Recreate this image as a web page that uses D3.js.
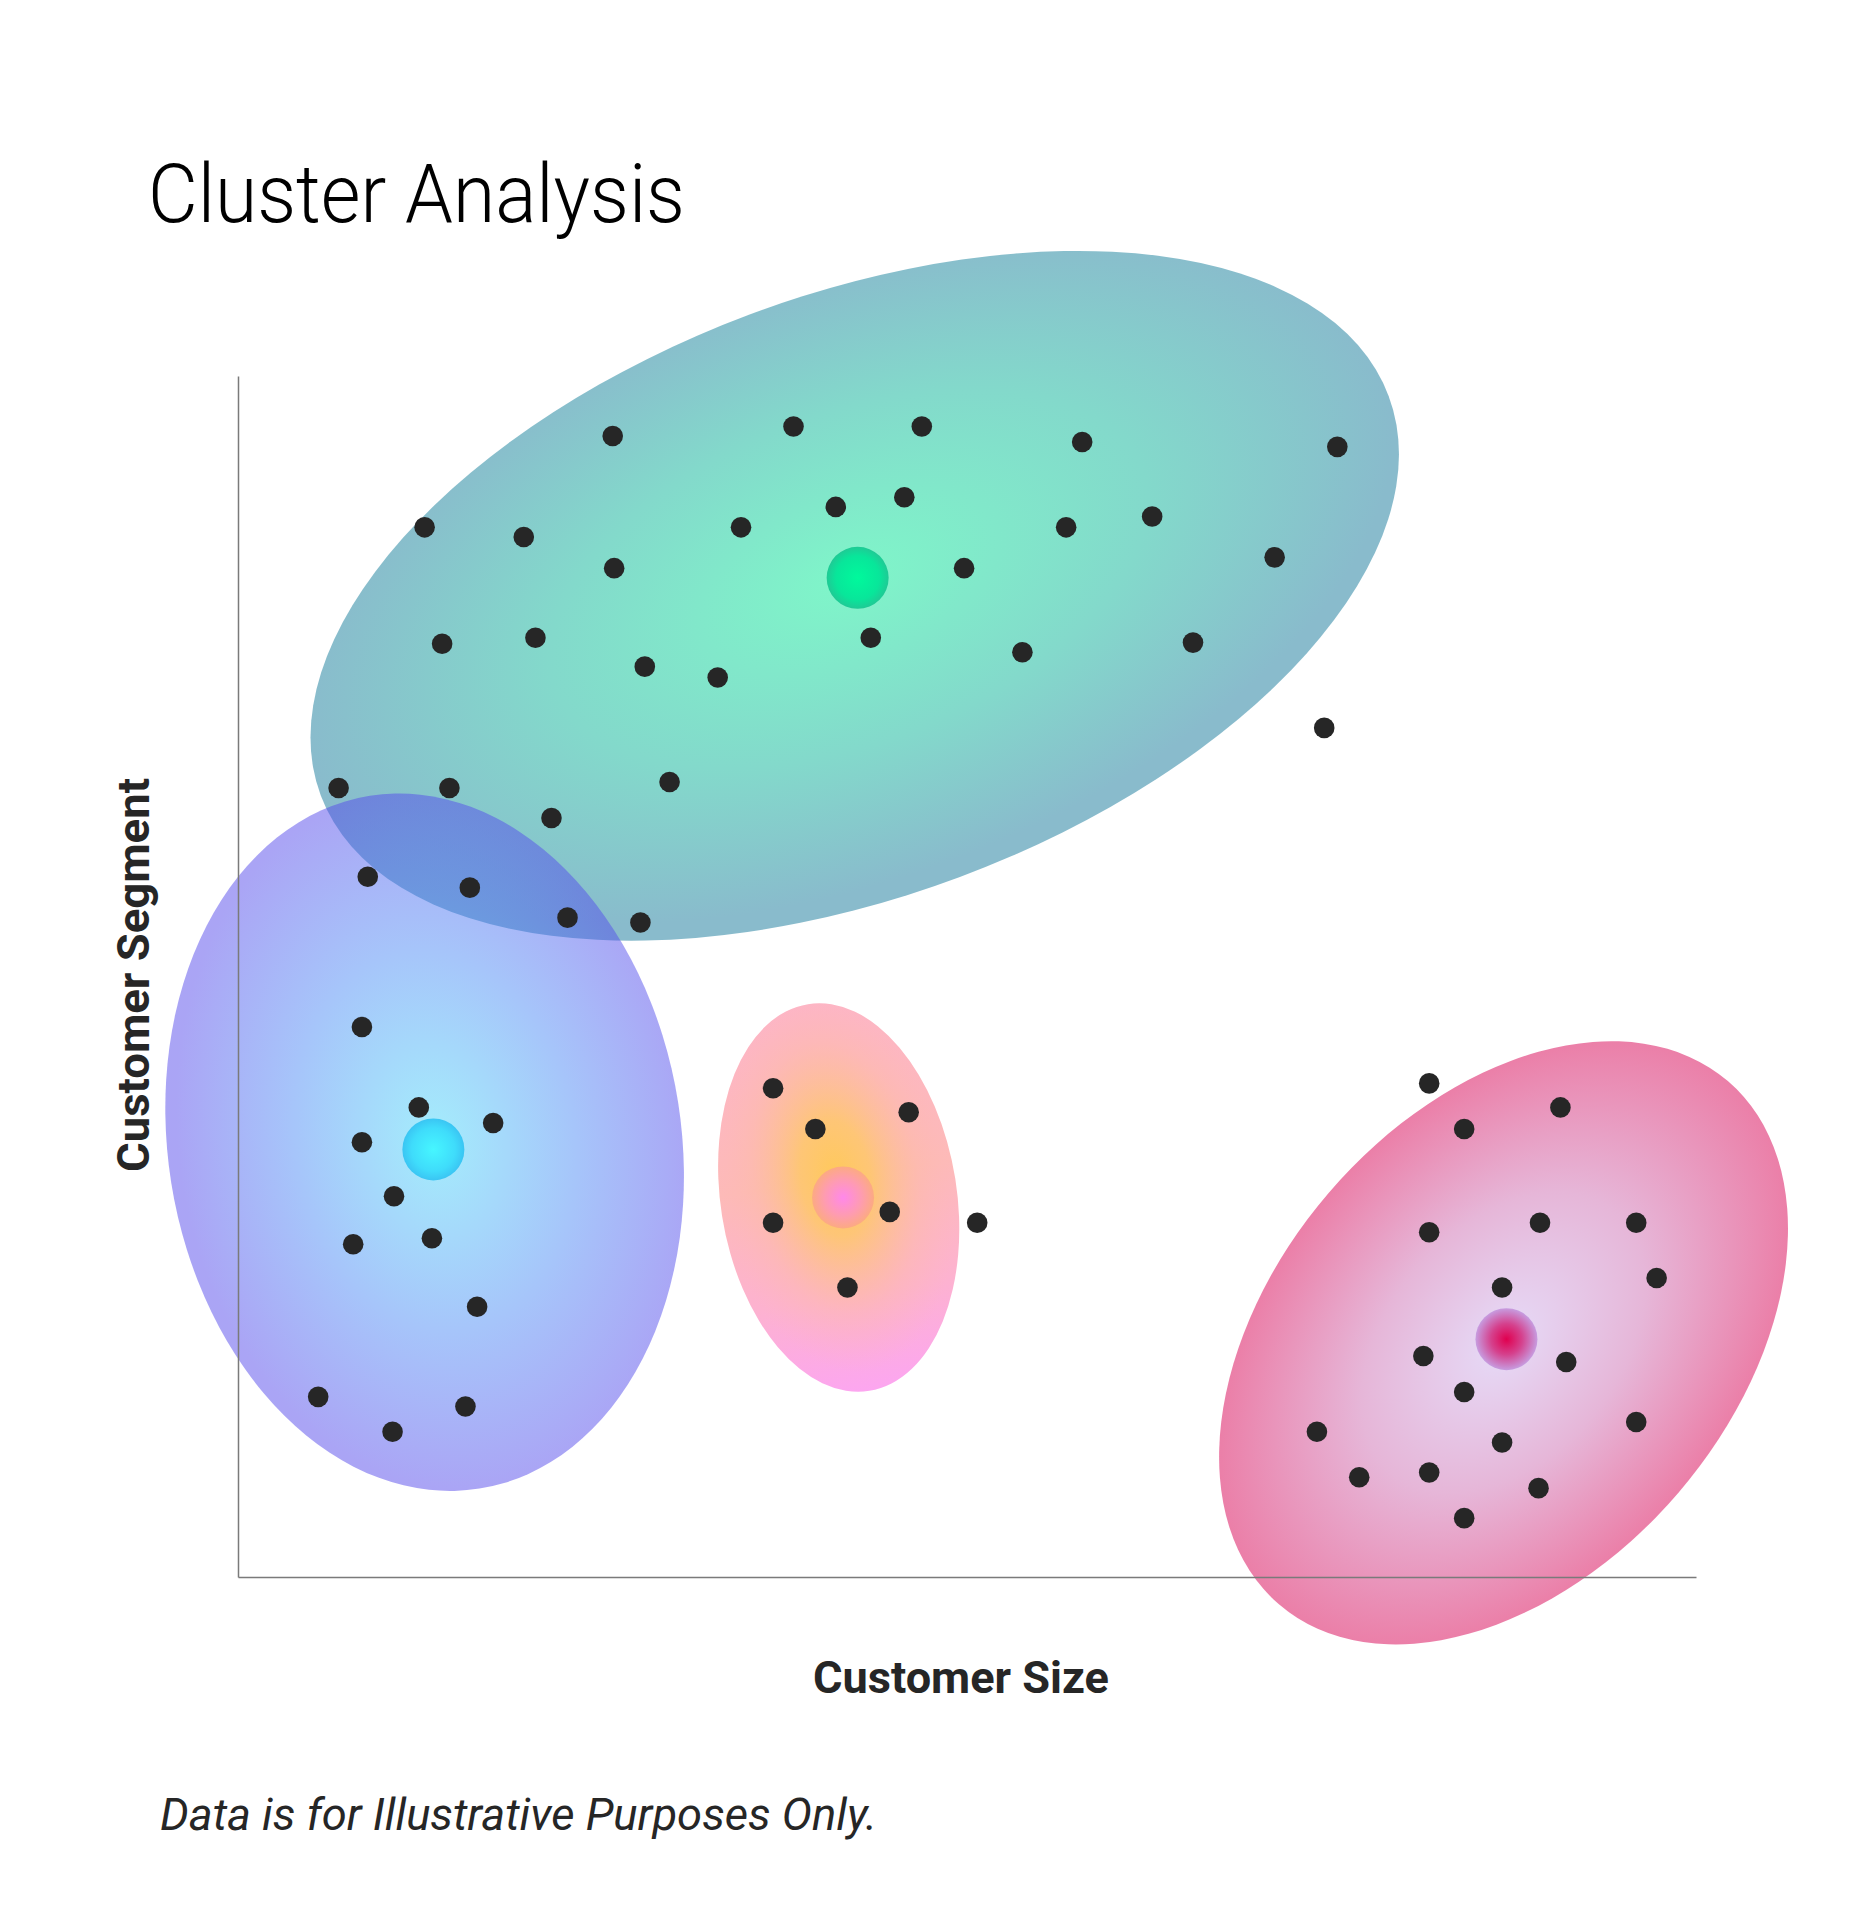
<!DOCTYPE html>
<html>
<head>
<meta charset="utf-8">
<script src="https://cdn.jsdelivr.net/npm/d3@7"></script>
<style>
  body { margin: 0; background: #fff; }
  text { font-family: Roboto, "Noto Sans", sans-serif; fill: #262626; }
  .axis path { stroke: #7a7a7a; stroke-width: 1.5; }
</style>
</head>
<body>
<svg id="chart" width="1850" height="1931"></svg>
<script>
// points as [customer size, customer segment], both on a 0-100 scale
var tealPoints = [
  [25.7, 95.0], [38.1, 95.8], [46.9, 95.8], [57.9, 94.5], [75.4, 94.1],
  [12.8, 87.4], [19.6, 86.6], [34.5, 87.4], [41.0, 89.1], [45.7, 89.9], [56.8, 87.4], [62.7, 88.3],
  [25.8, 84.0], [49.8, 84.0], [71.1, 84.9],
  [14.0, 77.7], [20.4, 78.2], [27.9, 75.8], [32.9, 74.9], [43.4, 78.2], [53.8, 77.0], [65.5, 77.8],
  [74.5, 70.7],
  [6.9, 65.7], [14.5, 65.7], [29.6, 66.2], [21.5, 63.2],
  [8.9, 58.3], [15.9, 57.4], [22.6, 54.9], [27.6, 54.5]
];
var bluePoints = [
  [8.5, 45.8], [12.4, 39.1], [17.5, 37.8], [8.5, 36.2], [10.7, 31.7], [7.9, 27.7],
  [13.3, 28.2], [16.4, 22.5], [5.5, 15.0], [10.6, 12.1], [15.6, 14.2]
];
var orangePoints = [
  [36.7, 40.7], [39.6, 37.3], [46.0, 38.7], [36.7, 29.5], [44.7, 30.4], [41.8, 24.1], [50.7, 29.5]
];
var redPoints = [
  [81.7, 41.1], [84.1, 37.3], [90.7, 39.1], [81.7, 28.7], [89.3, 29.5], [95.9, 29.5],
  [97.3, 24.9], [86.7, 24.1], [81.3, 18.4], [91.1, 17.9], [84.1, 15.4], [74.0, 12.1],
  [95.9, 12.9], [86.7, 11.2], [76.9, 8.3], [81.7, 8.7], [89.2, 7.4], [84.1, 4.9]
];

// cluster order: teal, blue, orange, red
var clusterNames = ["teal", "blue", "orange", "red"];
var centroids = [[42.5, 83.2], [13.4, 35.6], [41.5, 31.6], [87.0, 19.8]];
// spread of each cluster: centre, half-widths (in axis units) and tilt in degrees
var clusterCentres = [[42.3, 81.7], [12.8, 36.2], [41.2, 31.6], [86.8, 19.5]];
var clusterRadii = [[39.1, 25.0], [17.6, 29.2], [8.1, 16.3], [15.8, 28.7]];
var clusterTilt = [-20.5, -9, -9, 40.6];

var svg = d3.select("#chart"),
    margin = { top: 376, right: 154, bottom: 354, left: 238 },
    width = +svg.attr("width") - margin.left - margin.right,
    height = +svg.attr("height") - margin.top - margin.bottom;

var x = d3.scaleLinear().domain([0, 100]).range([0, width]),
    y = d3.scaleLinear().domain([0, 100]).range([height, 0]);

var defs = svg.append("defs");

function radial(id, stops, cx, cy) {
    var grad = defs.append("radialGradient")
        .attr("id", id)
        .attr("cx", cx || 0.5)
        .attr("cy", cy || 0.5)
        .attr("r", 0.5);
    stops.forEach(s => grad.append("stop")
        .attr("offset", s[0])
        .attr("stop-color", s[1])
        .attr("stop-opacity", s[2] === undefined ? 1 : s[2]));
}

// cluster fills
radial("fill-teal", [[0, "#7ff6c9"], [0.55, "#83d9cb"], [1, "#89bbcc"]], 0.5, 0.47);
radial("fill-blue", [[0, "#49dbf9"], [0.55, "#4d8af5"], [1, "#554aeb"]], 0.52, 0.5);
radial("fill-orange-glow", [[0, "#ffc95a"], [0.3, "#fec86a", 0.85], [0.7, "#fdbca0", 0.35], [1, "#fdb8b4", 0]], 0.5, 0.45);
radial("fill-red", [[0, "#e6dbf8"], [0.5, "#e6b6d8"], [1, "#eb7fa8"]], 0.5, 0.5);

var orangeBase = defs.append("linearGradient")
    .attr("id", "fill-orange")
    .attr("x1", 0).attr("y1", 0).attr("x2", 0).attr("y2", 1);
[[0, "#fdb5c8"], [0.45, "#fdbab8"], [0.75, "#fdb2d0"], [1, "#fca6f0"]].forEach(s =>
    orangeBase.append("stop").attr("offset", s[0]).attr("stop-color", s[1]));

// centroid fills
radial("dot-teal", [[0, "#00f99c"], [0.7, "#08e69a"], [1, "#1fca95"]]);
radial("dot-blue", [[0, "#46f6ff"], [0.7, "#3fdcfb"], [1, "#3ac5f3"]]);
radial("dot-orange", [[0, "#ff88ea"], [0.6, "#fe9cb0"], [1, "#fcaa82"]]);
radial("dot-red", [[0, "#e0004f"], [0.5, "#d5418d"], [1, "#c79ce0"]]);

var plot = svg.append("g")
    .attr("transform", "translate(" + margin.left + "," + margin.top + ")");

// blue sits over teal and lets it show through
var clusterOpacity = [1, 0.5, 1, 1];

clusterNames.forEach((name, i) => {
    var shape = plot.append("g")
        .attr("class", "cluster " + name)
        .attr("transform", "translate(" + x(clusterCentres[i][0]) + "," + y(clusterCentres[i][1]) + ") rotate(" + clusterTilt[i] + ")");
    var rx = x(clusterRadii[i][0]) - x(0),
        ry = y(0) - y(clusterRadii[i][1]);
    shape.append("ellipse")
        .attr("rx", rx)
        .attr("ry", ry)
        .attr("fill", "url(#fill-" + name + ")")
        .attr("opacity", clusterOpacity[i]);
    if (name === "orange") {
        shape.append("ellipse")
            .attr("rx", rx)
            .attr("ry", ry)
            .attr("fill", "url(#fill-orange-glow)");
    }
});

// axes: bare lines, no ticks
plot.append("g")
    .attr("class", "axis axis--x")
    .attr("transform", "translate(0," + height + ")")
    .call(d3.axisBottom(x).ticks(0).tickSizeOuter(0));
plot.append("g")
    .attr("class", "axis axis--y")
    .call(d3.axisLeft(y).ticks(0).tickSizeOuter(0));

// centroids
plot.selectAll(".centroid")
    .data(centroids)
    .enter().append("circle")
    .attr("class", "centroid")
    .attr("cx", d => x(d[0]))
    .attr("cy", d => y(d[1]))
    .attr("r", 31)
    .attr("fill", (d, i) => "url(#dot-" + clusterNames[i] + ")");

// members
var allPoints = tealPoints.concat(bluePoints, orangePoints, redPoints);
plot.selectAll(".member")
    .data(allPoints)
    .enter().append("circle")
    .attr("class", "member")
    .attr("cx", d => x(d[0]))
    .attr("cy", d => y(d[1]))
    .attr("r", 10.3)
    .attr("fill", "#262626");

// texts
svg.append("text")
    .attr("x", 148)
    .attr("y", 222)
    .attr("font-size", 82)
    .attr("font-weight", 300)
    .attr("textLength", 537)
    .attr("lengthAdjust", "spacingAndGlyphs")
    .style("fill", "#000")
    .text("Cluster Analysis");

svg.append("text")
    .attr("x", margin.left + width / 2 - 6)
    .attr("y", 1693)
    .attr("text-anchor", "middle")
    .attr("font-size", 45)
    .attr("font-weight", 700)
    .attr("textLength", 296)
    .attr("lengthAdjust", "spacingAndGlyphs")
    .text("Customer Size");

svg.append("text")
    .attr("transform", "translate(149,975) rotate(-90)")
    .attr("text-anchor", "middle")
    .attr("font-size", 45)
    .attr("font-weight", 700)
    .attr("textLength", 394)
    .attr("lengthAdjust", "spacingAndGlyphs")
    .text("Customer Segment");

svg.append("text")
    .attr("x", 160)
    .attr("y", 1830)
    .attr("font-size", 44)
    .attr("font-style", "italic")
    .attr("textLength", 717)
    .attr("lengthAdjust", "spacingAndGlyphs")
    .text("Data is for Illustrative Purposes Only.");
</script>
</body>
</html>
